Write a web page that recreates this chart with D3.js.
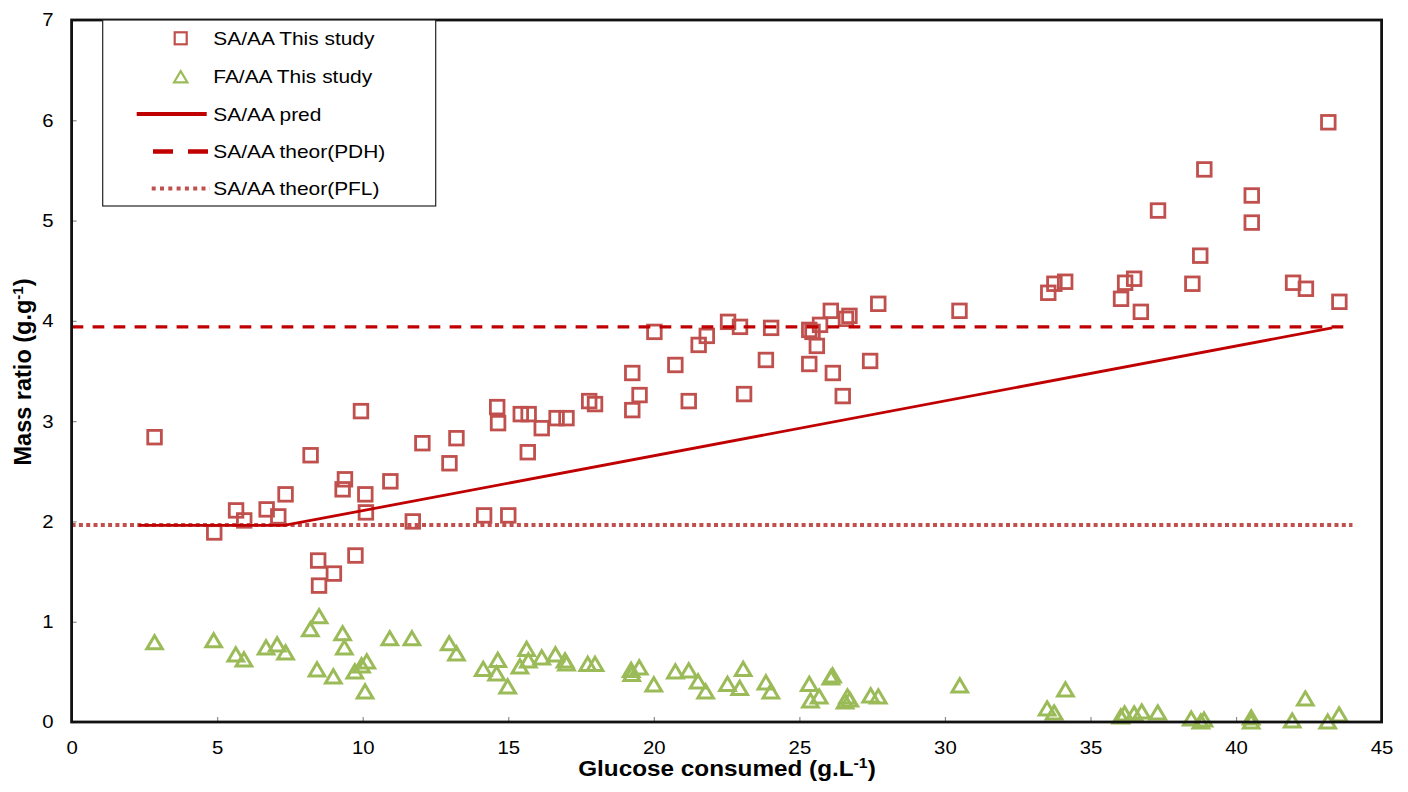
<!DOCTYPE html>
<html>
<head>
<meta charset="utf-8">
<script src="https://cdn.jsdelivr.net/npm/d3@7"></script>
<style>
  html, body { margin: 0; padding: 0; background: #fff; }
  svg { display: block; font-family: "Liberation Sans", Arial, sans-serif; }
</style>
</head>
<body>
<svg id="chart" width="1408" height="792"></svg>
<script>
// SA/AA measured ratios vs glucose consumed (g/L)
const saX = [2.85, 4.90, 5.65, 5.93, 6.70, 7.10, 7.35, 8.21, 8.47, 8.50, 9.01, 9.31, 9.39, 9.75, 9.94,
  10.09, 10.11, 10.95, 11.72, 12.05, 12.98, 13.22, 14.17, 14.62, 14.65, 15.00, 15.43, 15.70, 15.67,
  16.15, 16.66, 17.00, 17.78, 17.98, 19.26, 19.51, 19.26, 20.02, 20.74, 21.20, 21.54, 21.82, 22.55,
  22.96, 23.10, 23.85, 24.03, 25.34, 25.45, 25.71, 25.60, 25.34, 26.08, 26.15, 26.49, 26.60, 26.72,
  27.43, 27.71, 30.50, 33.55, 33.76, 34.13, 36.05, 36.19, 36.50, 36.73, 37.32, 38.50, 38.77, 38.91,
  40.54, 40.54, 41.96, 42.40, 43.17, 43.55];
const saY = [2.84, 1.89, 2.11, 2.01, 2.12, 2.05, 2.27, 2.66, 1.61, 1.36, 1.48, 2.32, 2.42, 1.66, 3.10,
  2.27, 2.09, 2.40, 2.00, 2.78, 2.58, 2.83, 2.06, 3.14, 2.98, 2.06, 3.07, 3.07, 2.69,
  2.93, 3.03, 3.03, 3.20, 3.17, 3.48, 3.26, 3.11, 3.89, 3.56, 3.20, 3.76, 3.85, 3.99,
  3.94, 3.27, 3.61, 3.93, 3.91, 3.89, 3.96, 3.75, 3.57, 4.10, 3.48, 3.25, 4.02, 4.05,
  3.60, 4.17, 4.10, 4.28, 4.37, 4.39, 4.22, 4.38, 4.42, 4.09, 5.10, 4.37, 4.65, 5.51,
  5.25, 4.98, 4.38, 4.32, 5.98, 4.19];

// FA/AA measured ratios vs glucose consumed (g/L)
const faX = [2.85, 4.88, 5.64, 5.92, 6.68, 7.06, 7.35, 8.20, 8.50, 8.43, 8.99, 9.31, 9.37, 9.73, 9.96,
  10.14, 10.08, 10.93, 11.69, 12.97, 13.22, 14.14, 14.64, 14.60, 14.98, 15.40, 15.63, 15.69, 16.15,
  16.62, 16.95, 17.00, 17.73, 17.98, 19.22, 19.50, 19.24, 20.00, 20.74, 21.20, 21.52, 21.78, 22.53,
  22.95, 23.07, 23.85, 24.02, 25.34, 25.38, 25.68, 26.14, 26.08, 26.57, 26.73, 26.65, 27.45, 27.71,
  30.51, 33.51, 33.75, 34.14, 36.04, 36.17, 36.50, 36.76, 37.31, 38.46, 38.79, 38.90, 40.52, 40.52,
  41.93, 42.38, 43.15, 43.54];
const faY = [0.80, 0.82, 0.68, 0.63, 0.75, 0.78, 0.70, 0.93, 1.06, 0.53, 0.46, 0.89, 0.75, 0.51, 0.57,
  0.61, 0.31, 0.84, 0.84, 0.79, 0.69, 0.535, 0.625, 0.49, 0.36, 0.56, 0.735, 0.62, 0.65,
  0.68, 0.62, 0.59, 0.585, 0.585, 0.525, 0.55, 0.485, 0.38, 0.51, 0.52, 0.41, 0.31, 0.385,
  0.345, 0.535, 0.40, 0.31, 0.385, 0.22, 0.26, 0.47, 0.45, 0.21, 0.23, 0.26, 0.27, 0.26,
  0.37, 0.14, 0.10, 0.33, 0.06, 0.09, 0.09, 0.11, 0.10, 0.04, 0.01, 0.03, 0.05, 0.01,
  0.02, 0.24, 0.01, 0.08];

// Predicted SA/AA and the two theoretical levels
const predX = [2.3, 7.3, 43.3];
const predY = [1.96, 1.96, 3.93];
const theorX = [0, 44];
const pdhY = [3.94, 3.94];
const pflY = [1.964, 1.964];

const xTicks = [0, 5, 10, 15, 20, 25, 30, 35, 40, 45];
const yTicks = [0, 1, 2, 3, 4, 5, 6, 7];
const legendLabels = ["SA/AA This study", "FA/AA This study", "SA/AA pred",
  "SA/AA theor(PDH)", "SA/AA theor(PFL)"];

const SQ = "#c0504d", TRI = "#9bbb59", DARK = "#c00000";

const svg = d3.select("#chart");
const x = d3.scaleLinear().domain([0, 45]).range([71.6, 1381.6]);
const y = d3.scaleLinear().domain([0, 7]).range([722, 20]);

// widen glyphs horizontally to the chart's text proportions
function stretch(sel, k) {
  sel.each(function () {
    const len = this.getComputedTextLength();
    d3.select(this).attr("textLength", len * k).attr("lengthAdjust", "spacingAndGlyphs");
  });
}

// axes
const xAxis = svg.append("g").attr("transform", `translate(0,${y(0)})`)
  .call(d3.axisBottom(x).tickValues(xTicks).tickFormat(d3.format("d"))
    .tickSizeInner(-5).tickSizeOuter(0).tickPadding(19));
const yAxis = svg.append("g").attr("transform", `translate(${x(0)},0)`)
  .call(d3.axisLeft(y).tickValues(yTicks).tickFormat(d3.format("d"))
    .tickSizeInner(-5).tickSizeOuter(0).tickPadding(18));
[xAxis, yAxis].forEach(g => {
  g.select(".domain").remove();
  g.selectAll(".tick line").attr("stroke", "#8c8c8c").attr("stroke-width", 1.2);
  g.selectAll(".tick text").attr("font-size", 18.5).attr("fill", "#000")
    .attr("font-family", "Liberation Sans, Arial, sans-serif");
});
stretch(xAxis.selectAll(".tick text"), 1.1);
stretch(yAxis.selectAll(".tick text"), 1.1);

// markers
const plot = svg.append("g");
const sqSide = 13.6;
plot.selectAll("rect.sa").data(saX.map((v, i) => [v, saY[i]])).join("rect")
  .attr("class", "sa")
  .attr("x", d => x(d[0]) - sqSide / 2).attr("y", d => y(d[1]) - sqSide / 2)
  .attr("width", sqSide).attr("height", sqSide)
  .attr("fill", "none").attr("stroke", SQ).attr("stroke-width", 2.8);

const tw = 15.6, th = 13.2;
const triPath = `M0,${-th / 2}L${tw / 2},${th / 2}L${-tw / 2},${th / 2}Z`;
plot.selectAll("path.fa").data(faX.map((v, i) => [v, faY[i]])).join("path")
  .attr("class", "fa").attr("d", triPath)
  .attr("transform", d => `translate(${x(d[0])},${y(d[1]) + 0.5})`)
  .attr("fill", "none").attr("stroke", TRI).attr("stroke-width", 3);

// lines
const line = d3.line().x(d => x(d[0])).y(d => y(d[1]));
plot.append("path").datum(theorX.map((v, i) => [v, pflY[i]])).attr("d", line)
  .attr("fill", "none").attr("stroke", SQ).attr("stroke-width", 4).attr("stroke-dasharray", "4,3.3");
plot.append("path").datum(theorX.map((v, i) => [v, pdhY[i]])).attr("d", line)
  .attr("fill", "none").attr("stroke", DARK).attr("stroke-width", 3.4).attr("stroke-dasharray", "11.7,9.3");
plot.append("path").datum(predX.map((v, i) => [v, predY[i]])).attr("d", line)
  .attr("fill", "none").attr("stroke", DARK).attr("stroke-width", 2.8);

// plot frame
svg.append("rect").attr("x", x(0)).attr("y", y(7))
  .attr("width", x(45) - x(0)).attr("height", y(0) - y(7))
  .attr("fill", "none").attr("stroke", "#111").attr("stroke-width", 2.8);

// legend
const lg = svg.append("g");
lg.append("rect").attr("x", 102.7).attr("y", 20).attr("width", 333).attr("height", 186)
  .attr("fill", "#fff").attr("stroke", "#222").attr("stroke-width", 1.2);
const rowY = [38.3, 75.7, 114, 151.5, 188.5];
lg.append("rect").attr("x", 180.7 - 6).attr("y", rowY[0] - 6)
  .attr("width", 12).attr("height", 12)
  .attr("fill", "none").attr("stroke", SQ).attr("stroke-width", 2.2);
lg.append("path").attr("d", triPath).attr("transform", `translate(180.7,${rowY[1] + 1}) scale(0.85)`)
  .attr("fill", "none").attr("stroke", TRI).attr("stroke-width", 2.6);
lg.append("line").attr("x1", 136.7).attr("x2", 206.7).attr("y1", rowY[2]).attr("y2", rowY[2])
  .attr("stroke", DARK).attr("stroke-width", 4);
lg.append("line").attr("x1", 153).attr("x2", 208).attr("y1", rowY[3]).attr("y2", rowY[3])
  .attr("stroke", DARK).attr("stroke-width", 4.4).attr("stroke-dasharray", "20,15");
lg.append("line").attr("x1", 151.7).attr("x2", 210).attr("y1", rowY[4]).attr("y2", rowY[4])
  .attr("stroke", SQ).attr("stroke-width", 4).attr("stroke-dasharray", "4,4.3");
lg.selectAll("text").data(legendLabels).join("text")
  .attr("x", 213.3).attr("y", (d, i) => rowY[i] + 6.8)
  .attr("font-size", 18.5).attr("fill", "#000").text(d => d)
  .call(stretch, 1.13);

// axis titles
const xt = svg.append("text").attr("x", 727).attr("y", 776).attr("text-anchor", "middle")
  .attr("font-size", 21.5).attr("font-weight", "bold").attr("fill", "#000");
xt.append("tspan").text("Glucose consumed (g.L");
xt.append("tspan").attr("font-size", 14).attr("dy", -8).text("-1");
xt.append("tspan").attr("dy", 8).text(")");
stretch(xt, 1.13);

const yt = svg.append("text").attr("transform", "translate(31,372) rotate(-90)")
  .attr("text-anchor", "middle").attr("font-size", 23.5).attr("font-weight", "bold").attr("fill", "#000");
yt.append("tspan").text("Mass ratio (g.g");
yt.append("tspan").attr("font-size", 15).attr("dy", -8.5).text("-1");
yt.append("tspan").attr("dy", 8.5).text(")");
</script>
</body>
</html>
